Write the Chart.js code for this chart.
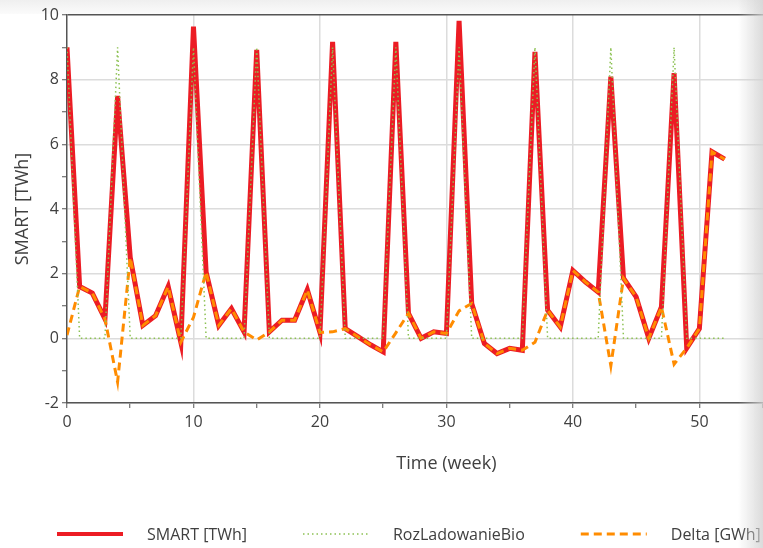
<!DOCTYPE html>
<html lang="en">
<head>
    <meta charset="UTF-8">
    <title>SMART</title>
    <script src="https://cdn.jsdelivr.net/npm/chart.js"></script>
    <style>
        html, body {
            margin: 0;
            padding: 0;
            background: #fff;
            overflow: hidden;
            width: 763px;
            height: 548px;
        }
        #wrap {
            position: absolute;
            left: 0; top: 0;
            width: 840px;
            height: 548px;
            z-index: 1;
        }
        #topShade {
            position: absolute;
            left: 0; top: 0;
            width: 763px; height: 14px;
            background: linear-gradient(to bottom, #efefef, #fbfbfb);
            z-index: 0;
        }
        #rightShade {
            position: absolute;
            left: 738px; top: 0;
            width: 25px; height: 548px;
            background: linear-gradient(to right, rgba(225,225,225,0), rgba(210,210,210,0.8));
            pointer-events: none;
            z-index: 2;
        }
    </style>
</head>
<body>
    <div id="topShade"></div>
    <div id="wrap">
        <canvas id="smartChart" width="840" height="548"></canvas>
    </div>
    <div id="rightShade"></div>

    <script>
        // weeks 0..52
        const weeks = [];
        for (let w = 0; w <= 52; w++) weeks.push(w);

        const smart = [9.0, 1.6, 1.4, 0.6, 7.5, 2.5, 0.4, 0.7, 1.6, -0.12,
                       9.64, 2.05, 0.4, 0.92, 0.2, 8.92, 0.2, 0.56, 0.56, 1.5,
                       0.18, 9.17, 0.3, 0.05, -0.2, -0.42, 9.17, 0.77, 0.0, 0.2,
                       0.15, 9.82, 1.08, -0.16, -0.47, -0.31, -0.37, 8.86, 0.87, 0.35,
                       2.1, 1.74, 1.43, 8.09, 1.86, 1.28, 0.0, 0.97, 8.2, -0.3,
                       0.3, 5.77, 5.54];

        const rozladowanieBio = [9, 0, 0, 0, 9, 0, 0, 0, 0, 0,
                                 9, 0, 0, 0, 0, 9, 0, 0, 0, 0,
                                 0, 9, 0, 0, 0, 0, 9, 0, 0, 0,
                                 0, 9, 0, 0, 0, 0, 0, 9, 0, 0,
                                 0, 0, 0, 9, 0, 0, 0, 0, 9, 0,
                                 0, 0, 0];

        const delta = [0.1, 1.6, 1.4, 0.6, -1.35, 2.5, 0.4, 0.7, 1.6, -0.12,
                       0.65, 2.05, 0.4, 0.92, 0.2, -0.05, 0.2, 0.56, 0.56, 1.5,
                       0.18, 0.2, 0.3, 0.05, -0.2, -0.42, 0.17, 0.77, 0.0, 0.2,
                       0.15, 0.85, 1.08, -0.16, -0.47, -0.31, -0.37, -0.12, 0.87, 0.35,
                       2.1, 1.74, 1.43, -0.85, 1.86, 1.28, 0.0, 0.97, -0.8, -0.3,
                       0.3, 5.77, 5.54];

        const seriesNames = ['SMART [TWh]', 'RozLadowanieBio', 'Delta [GWh]'];
        const xTitle = 'Time (week)';
        const yTitle = 'SMART [TWh]';

        const fontFamily = '"Open Sans", "Noto Sans", sans-serif';
        const textColor = '#404040';

        function toPoints(values) {
            return values.map((v, i) => ({ x: weeks[i], y: v }));
        }

        // legend drawn under the axis title, line samples like the original
        const lineLegend = {
            id: 'lineLegend',
            afterDraw(chart) {
                const ctx = chart.ctx;
                const y = 534;
                let x = 57;
                ctx.save();
                ctx.font = '16px ' + fontFamily;
                ctx.textBaseline = 'middle';
                chart.data.datasets.forEach(ds => {
                    ctx.strokeStyle = ds.borderColor;
                    ctx.lineWidth = Math.min(ds.borderWidth, 4);
                    ctx.setLineDash(ds.borderDash || []);
                    ctx.beginPath();
                    ctx.moveTo(x, y);
                    ctx.lineTo(x + 66, y);
                    ctx.stroke();
                    ctx.setLineDash([]);
                    ctx.fillStyle = textColor;
                    ctx.fillText(ds.label, x + 90, y + 1);
                    x += 90 + ctx.measureText(ds.label).width + 56;
                });
                ctx.restore();
            }
        };

        const ctx = document.getElementById('smartChart').getContext('2d');
        const chart = new Chart(ctx, {
            type: 'line',
            data: {
                datasets: [
                    {
                        label: seriesNames[0],
                        data: toPoints(smart),
                        borderColor: '#ec1c24',
                        borderWidth: 5,
                        pointRadius: 0,
                        tension: 0,
                        order: 3
                    },
                    {
                        label: seriesNames[1],
                        data: toPoints(rozladowanieBio),
                        borderColor: '#8cc152',
                        borderWidth: 1.5,
                        borderDash: [1.5, 3],
                        pointRadius: 0,
                        tension: 0,
                        order: 1
                    },
                    {
                        label: seriesNames[2],
                        data: toPoints(delta),
                        borderColor: '#ff8c00',
                        borderWidth: 3,
                        borderDash: [8, 5],
                        pointRadius: 0,
                        tension: 0,
                        order: 2
                    }
                ]
            },
            options: {
                responsive: false,
                animation: false,
                layout: {
                    padding: { top: 15, left: 0, right: 8, bottom: 73 }
                },
                plugins: {
                    legend: { display: false },
                    tooltip: { enabled: false }
                },
                scales: {
                    x: {
                        type: 'linear',
                        min: 0,
                        max: 60,
                        afterFit(scale) { scale.height = 72; },
                        ticks: {
                            stepSize: 5,
                            color: textColor,
                            padding: 5,
                            maxRotation: 0,
                            font: { family: fontFamily, size: 16 },
                            callback: v => (v % 10 === 0 ? v : '')
                        },
                        grid: {
                            color: c => (c.tick && c.tick.value % 10 === 0 && c.tick.value !== 0 ? '#dcdcdc' : 'rgba(0,0,0,0)'),
                            lineWidth: 1.5,
                            tickColor: '#555',
                            tickLength: 5,
                            tickWidth: 1
                        },
                        border: { color: '#555', width: 1.5 },
                        title: {
                            display: true,
                            text: xTitle,
                            color: textColor,
                            padding: { top: 0, bottom: 0 },
                            font: { family: fontFamily, size: 18 }
                        }
                    },
                    y: {
                        min: -2,
                        max: 10,
                        afterFit(scale) { scale.width = 67; },
                        ticks: {
                            stepSize: 1,
                            color: textColor,
                            padding: 3,
                            font: { family: fontFamily, size: 16 },
                            callback: v => (v % 2 === 0 ? v : '')
                        },
                        grid: {
                            color: c => {
                                const v = c.tick ? c.tick.value : 0;
                                if (v === 10) return '#555';
                                return v % 2 === 0 ? '#dcdcdc' : 'rgba(0,0,0,0)';
                            },
                            lineWidth: 1.5,
                            tickColor: '#555',
                            tickLength: 5,
                            tickWidth: 1
                        },
                        border: { color: '#555', width: 1.5 },
                        title: {
                            display: true,
                            text: yTitle,
                            color: textColor,
                            padding: { top: 12, bottom: 0 },
                            font: { family: fontFamily, size: 18 }
                        }
                    }
                }
            },
            plugins: [lineLegend]
        });
    </script>
</body>
</html>
